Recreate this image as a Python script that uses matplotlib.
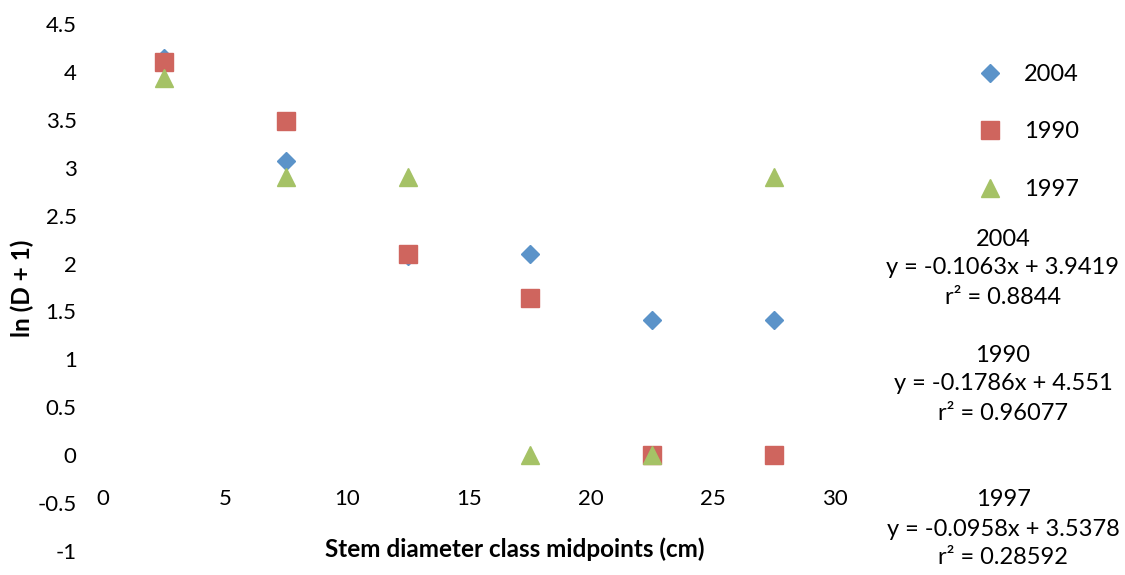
import matplotlib.pyplot as plt

plt.rcParams['font.family'] = ['Lato', 'DejaVu Sans']

x_mid = [2.5, 7.5, 12.5, 17.5, 22.5, 27.5]
y_2004 = [4.14, 3.07, 2.08, 2.10, 1.41, 1.41]
y_1990 = [4.10, 3.49, 2.10, 1.64, 0.0, 0.0]
y_1997 = [3.94, 2.90, 2.90, 0.0, 0.0, 2.90]

series = ['2004', '1990', '1997']
fits = [
    ('2004', 'y = -0.1063x + 3.9419', 'r² = 0.8844'),
    ('1990', 'y = -0.1786x + 4.551', 'r² = 0.96077'),
    ('1997', 'y = -0.0958x + 3.5378', 'r² = 0.28592'),
]

fig = plt.figure(figsize=(11.25, 5.75), dpi=100)
ax = fig.add_axes([103 / 1125, 1 - 551 / 575, (835 - 103) / 1125, (551 - 24) / 575])

ax.plot(x_mid, y_2004, 'D', color='#5B93C9', markersize=9.5, label=series[0], zorder=3)
ax.plot(x_mid, y_1990, 's', color='#CF655E', markersize=13, label=series[1], zorder=4)
ax.plot(x_mid, y_1997, '^', color='#A5C266', markersize=13, label=series[2], zorder=5)

ax.set_xlim(0, 30)
ax.set_ylim(-1, 4.5)
ax.set_xticks([0, 5, 10, 15, 20, 25, 30])
ax.set_yticks([-1, -0.5, 0, 0.5, 1, 1.5, 2, 2.5, 3, 3.5, 4, 4.5])
ax.set_yticklabels(['-1', '-0.5', '0', '0.5', '1', '1.5', '2', '2.5', '3', '3.5', '4', '4.5'])

for s in ax.spines.values():
    s.set_visible(False)
ax.spines['bottom'].set_position(('data', 0))
ax.tick_params(axis='x', length=0, pad=24, labelsize=16)
ax.tick_params(axis='y', length=0, pad=19, labelsize=16)

fig.text(515 / 1125, 1 - 549 / 575, 'Stem diameter class midpoints (cm)',
         ha='center', va='center', fontsize=17.5, fontweight='bold')
fig.text(22 / 1125, 1 - 288 / 575, 'ln (D + 1)', rotation=90,
         ha='center', va='center', fontsize=17.5, fontweight='bold')

ax.legend(loc='upper left', bbox_to_anchor=(964 / 1125, 1 - 52 / 575),
          bbox_transform=fig.transFigure, frameon=False, fontsize=17,
          labelspacing=1.55, handlelength=1.2, handletextpad=0.85, borderpad=0)

tops = [239, 355, 500]
for (name, eq, r2), top in zip(fits, tops):
    for i, line in enumerate([name, eq, r2]):
        fig.text(1003 / 1125, 1 - (top + 29 * i) / 575, line,
                 ha='center', va='center', fontsize=17)

fig.savefig('out.png', dpi=100)
